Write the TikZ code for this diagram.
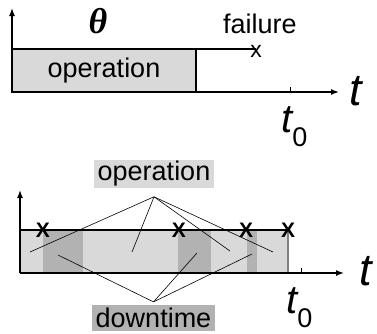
\documentclass[tikz,border=0pt]{standalone}
\usepackage{fontspec}
\setmainfont{Liberation Sans}
\newfontfamily\thetafont{Liberation Serif}
\usetikzlibrary{arrows.meta}

\definecolor{upgray}{gray}{0.85}
\definecolor{downgray}{gray}{0.70}

\newcommand{\tzero}{{\fontsize{40}{42}\selectfont\itshape t}\raisebox{-14pt}{\fontsize{27}{29}\selectfont 0}}

\begin{document}
\begin{tikzpicture}[
    x=1pt, y=-1pt,
    axis/.style={line width=1.4pt, -{Latex[length=8pt,width=6pt]}},
    bar/.style={line width=1.4pt},
    pointer/.style={line width=0.6pt},
    lbl/.style={font=\fontsize{27}{30}\selectfont, inner sep=0pt},
    tlabel/.style={font=\fontsize{45}{47}\selectfont\itshape, inner sep=0pt, anchor=base west},
    failmark/.style={font=\fontsize{21}{23}\selectfont, inner sep=0pt}
]
\useasboundingbox (0,0) rectangle (377,333);

% single operation period
\coordinate (o1) at (12,92);
\coordinate (ytop1) at (12,8);
\coordinate (xend1) at (339,92);
\coordinate (tick1) at (290,92);
\node[lbl, draw, line width=1.4pt, fill=upgray, minimum width=184pt, minimum height=43pt,
      anchor=south west, outer sep=0pt] (oper) at (o1) {operation};
\node[failmark, font=\fontsize{23}{25}\selectfont] (fail1) at (256,51) {x};
\draw[bar] (oper.north east) -- (fail1.center |- oper.north east);
\draw[axis] (o1) -- (ytop1);
\draw[axis] (o1) -- (xend1);
\draw[line width=1pt] (tick1) -- ++(0,-5);
\node[font=\thetafont\fontsize{36}{38}\bfseries\itshape, inner sep=0pt] (theta) at (98,21) {θ};
\node[lbl, anchor=base west] (failtxt) at (223,33) {failure};
\node[tlabel] (t1) at (349,105) {t};
\node[inner sep=0pt, anchor=base west] (tz1) at (281,132) {\tzero};

% repeated failures and repairs
\coordinate (o2) at (20,273);
\coordinate (ytop2) at (20,190);
\coordinate (xend2) at (344,273);
\coordinate (tick2) at (301,273);
\fill[upgray] (20,230) rectangle (288,273);
\foreach \a/\b in {43/83, 178/211, 247/257}
    \fill[downgray] (\a,230) rectangle (\b,273);
\draw[gray, line width=1.2pt] (288,229) -- (288,273);
\foreach \x [count=\i] in {43,179,246,288}
    \node[failmark, font=\fontsize{21}{23}\selectfont\bfseries] (x\i) at (\x,230) {X};
\draw[bar] (ytop2 |- x1) -- (x4.center);
\draw[axis] (o2) -- (ytop2);
\draw[axis] (o2) -- (xend2);
\draw[line width=1pt] (tick2) -- ++(0,-5);
\node[tlabel] (t2) at (359,285) {t};
\node[inner sep=0pt, anchor=base west] (tz2) at (286,313) {\tzero};

% labels with pointers
\node[lbl, fill=upgray, inner xsep=4pt, inner ysep=1pt] (oplbl) at (154,174) {operation};
\node[lbl, fill=downgray, inner xsep=4pt, inner ysep=3pt] (dnlbl) at (153.5,318) {downtime};
\coordinate (opj) at ([yshift=-9pt]oplbl.south);
\coordinate (dnj) at ([yshift=3pt]dnlbl.north);
\coordinate (op1) at (30,252);
\coordinate (op2) at (132,252);
\coordinate (op3) at (230,251);
\coordinate (op4) at (273,252);
\coordinate (dn1) at (58,255);
\coordinate (dn2) at (197,253);
\coordinate (dn3) at (252,254);
\foreach \p in {op1,op2,op3,op4}
    \draw[pointer] (opj) -- (\p);
\foreach \p in {dn1,dn2,dn3}
    \draw[pointer] (dnj) -- (\p);
\end{tikzpicture}
\end{document}
